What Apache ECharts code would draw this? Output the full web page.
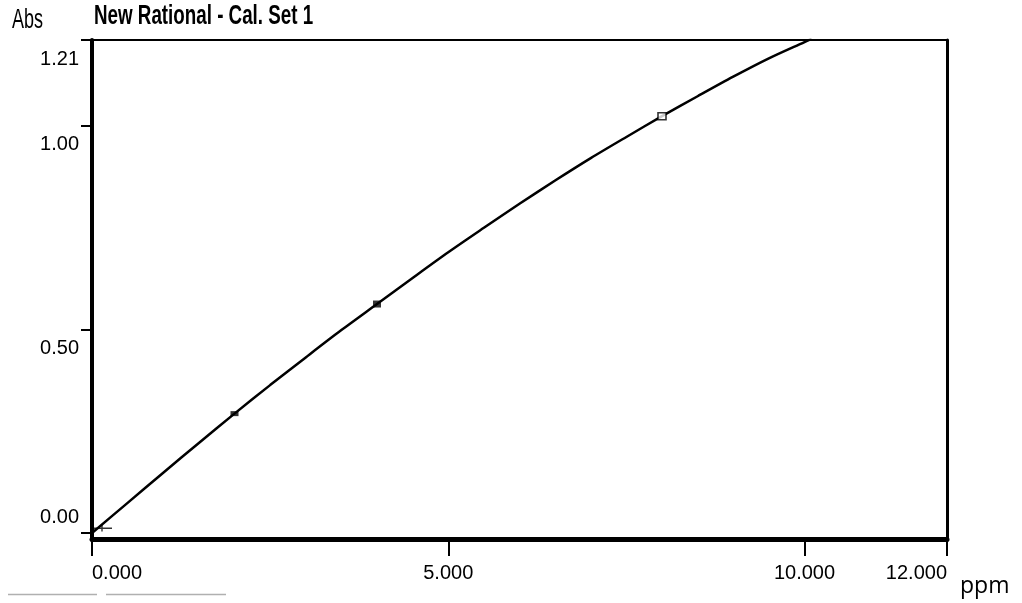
<!DOCTYPE html>
<html>
<head>
<meta charset="utf-8">
<script src="https://cdn.jsdelivr.net/npm/echarts@6/dist/echarts.min.js"></script>
<style>
  html, body { margin: 0; padding: 0; background: #fff; }
  #chart { width: 1022px; height: 603px; }
</style>
</head>
<body>
<div id="chart"></div>
<script>
// ---- data ----
const chartTitle = 'New Rational - Cal. Set 1';
const yAxisName = 'Abs';
const xAxisName = 'ppm';

const xTicks = [0, 5, 10, 12];
const yTicks = [0, 0.5, 1.0, 1.21];

// fitted calibration curve
const curveX = [0, 0.5, 1, 1.5, 2, 2.5, 3, 3.5, 4, 4.5, 5, 5.5, 6, 6.5, 7, 7.5, 8, 8.5, 9, 9.5, 10, 10.1];
const curveY = [0, 0.074, 0.148, 0.221, 0.293, 0.363, 0.431, 0.498, 0.562, 0.626, 0.689, 0.749, 0.808, 0.865, 0.920, 0.972, 1.023, 1.072, 1.120, 1.165, 1.205, 1.213];

// calibration standards
const stdX = [2, 4, 8];
const stdY = [0.293, 0.562, 1.023];

// blank (origin) point
const blankX = [0];
const blankY = [0];

// ---- chart ----
const SANS = "'Liberation Sans', Arial, sans-serif";
const yMin = -0.0147, yMax = 1.21;
const LBL = 20;

const chart = echarts.init(document.getElementById('chart'), null, { renderer: 'canvas' });

const stdStyles = [
  { symbol: 'rect', symbolSize: [8, 5], itemStyle: { color: '#000' } },
  { symbol: 'rect', symbolSize: [8, 7], itemStyle: { color: '#000' } },
  { symbol: 'rect', symbolSize: [8, 7], itemStyle: { color: '#fff', borderColor: '#000', borderWidth: 1.5 } }
];

const option = {
  animation: false,
  backgroundColor: '#fff',
  grid: { left: 92, right: 75, top: 40, bottom: 64, containLabel: false },
  xAxis: [
    {
      type: 'value', min: 0, max: 12, position: 'bottom',
      axisLine: { show: true, onZero: false, lineStyle: { color: '#000', width: 5 } },
      axisTick: { show: true, customValues: xTicks, length: 17, lineStyle: { color: '#000', width: 2 } },
      axisLabel: {
        customValues: xTicks, margin: 24, color: '#000', fontSize: LBL, fontFamily: SANS,
        alignMinLabel: 'left', alignMaxLabel: 'right',
        formatter: v => v.toFixed(3)
      },
      splitLine: { show: false }
    },
    {
      type: 'value', min: 0, max: 12, position: 'top',
      axisLine: { show: true, onZero: false, lineStyle: { color: '#000', width: 2 } },
      axisTick: { show: false }, axisLabel: { show: false }, splitLine: { show: false }
    }
  ],
  yAxis: [
    {
      type: 'value', min: yMin, max: yMax, position: 'left',
      axisLine: { show: true, onZero: false, lineStyle: { color: '#000', width: 4 } },
      axisTick: { show: true, customValues: yTicks, length: 11, lineStyle: { color: '#000', width: 2 } },
      axisLabel: {
        customValues: yTicks, margin: 13,
        formatter: v => (v < 0.25 ? '{lo|' : '{hi|') + v.toFixed(2) + '}',
        rich: {
          hi: { padding: [38, 0, 0, 0], fontSize: LBL, fontFamily: SANS, color: '#000' },
          lo: { padding: [0, 0, 32, 0], fontSize: LBL, fontFamily: SANS, color: '#000' }
        }
      },
      splitLine: { show: false }
    },
    {
      type: 'value', min: yMin, max: yMax, position: 'right',
      axisLine: { show: true, onZero: false, lineStyle: { color: '#000', width: 3 } },
      axisTick: { show: false }, axisLabel: { show: false }, splitLine: { show: false }
    }
  ],
  graphic: [
    { type: 'text', x: 94, y: 3, scaleY: 1.45, silent: true,
      style: { text: chartTitle, fontSize: 18.8, fontWeight: 'bold', fontFamily: SANS, fill: '#000', align: 'left', verticalAlign: 'top' } },
    { type: 'text', x: 12, y: 7, scaleY: 1.5, silent: true,
      style: { text: yAxisName, fontSize: 18, fontFamily: SANS, fill: '#000', align: 'left', verticalAlign: 'top' } },
    { type: 'text', x: 960, y: 586, silent: true,
      style: { text: xAxisName, fontSize: 23, fontFamily: "'Open Sans', sans-serif", fill: '#000', align: 'left', verticalAlign: 'middle' } },
    { type: 'line', silent: true, shape: { x1: 8, y1: 594.5, x2: 97, y2: 594.5 }, style: { stroke: '#b0b0b0', lineWidth: 1.5 } },
    { type: 'line', silent: true, shape: { x1: 106, y1: 594.5, x2: 226, y2: 594.5 }, style: { stroke: '#b0b0b0', lineWidth: 1.5 } }
  ],
  series: [
    {
      type: 'line', xAxisIndex: 0, yAxisIndex: 0,
      data: curveX.map((x, i) => [x, curveY[i]]),
      smooth: 0.3, showSymbol: false, clip: true,
      lineStyle: { color: '#000', width: 2.5 }, z: 3
    },
    {
      type: 'scatter', xAxisIndex: 0, yAxisIndex: 0,
      data: stdX.map((x, i) => Object.assign({ value: [x, stdY[i]] }, stdStyles[i])),
      z: 4
    },
    {
      type: 'scatter', xAxisIndex: 0, yAxisIndex: 0,
      data: blankX.map((x, i) => [x, blankY[i]]),
      symbol: 'path://M0,3H20V4.5H0Z M9.3,0H10.7V7H9.3Z',
      symbolSize: [20, 7], symbolOffset: [10, -5], symbolKeepAspect: false,
      itemStyle: { color: '#000' }, z: 4
    }
  ]
};

chart.setOption(option);
</script>
</body>
</html>
